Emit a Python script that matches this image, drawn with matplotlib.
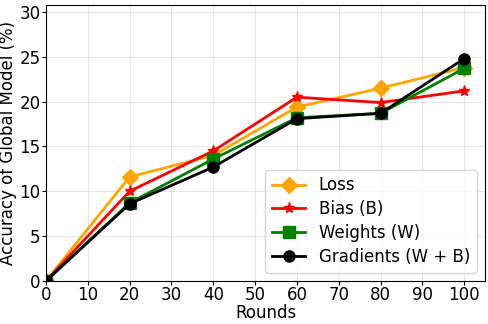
import matplotlib.pyplot as plt

rounds = [0, 20, 40, 60, 80, 100]
loss = [0, 11.6, 14.0, 19.4, 21.5, 23.8]
bias = [0, 10.0, 14.5, 20.5, 19.9, 21.2]
weights = [0, 8.7, 13.6, 18.2, 18.7, 23.7]
gradients = [0, 8.6, 12.7, 18.1, 18.7, 24.8]

fig, ax = plt.subplots(figsize=(4.89, 3.24), dpi=100)
fig.subplots_adjust(left=0.094, right=0.992, bottom=0.133, top=0.985)

ax.plot(rounds, loss, color='orange', marker='D', markersize=8, linewidth=2, label='Loss')
ax.plot(rounds, bias, color='red', marker='*', markersize=8, linewidth=2, label='Bias (B)')
ax.plot(rounds, weights, color='green', marker='s', markersize=8, linewidth=2, label='Weights (W)')
ax.plot(rounds, gradients, color='black', marker='o', markersize=8, linewidth=2, label='Gradients (W + B)')

ax.set_xlim(0, 105)
ax.set_ylim(0, 30.8)
ax.set_xticks(range(0, 101, 10))
ax.set_yticks(range(0, 31, 5))
ax.tick_params(labelsize=12, length=3, pad=1)
ax.grid(True, alpha=0.3)
ax.set_xlabel('Rounds', fontsize=12, labelpad=0)
ax.set_ylabel('Accuracy of Global Model (%)', fontsize=12, labelpad=2)
ax.legend(loc='lower right', fontsize=12, labelspacing=0.35)

plt.savefig('out.png', dpi=100)
